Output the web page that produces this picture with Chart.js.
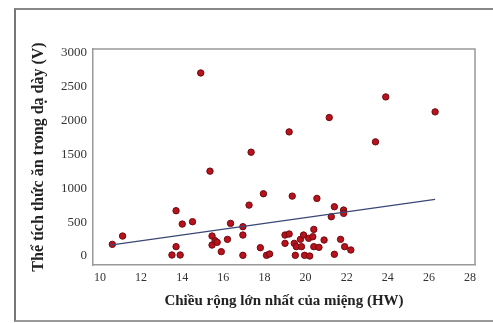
<!DOCTYPE html>
<html>
<head>
<meta charset="utf-8">
<script src="https://cdn.jsdelivr.net/npm/chart.js@4/dist/chart.umd.min.js"></script>
<style>
  html, body { margin: 0; padding: 0; background: #fff; overflow: hidden; }
  #wrap { position: relative; width: 493px; height: 323px; overflow: hidden; }
  #frame {
    position: absolute; left: 14px; top: 8px; width: 479px; height: 310px;
    border-left: 2px solid #777; border-top: 2px solid #888; border-bottom: 2px solid #999;
  }
  canvas { position: absolute; left: 0; top: 0; }
</style>
</head>
<body>
<div id="wrap">
  <div id="frame"></div>
  <canvas id="chart" width="493" height="323"></canvas>
</div>
<script>
// Data
const hw = [10.6, 11.1, 13.5, 13.7, 13.7, 13.9, 14.0, 14.5, 14.9, 15.35,
            15.45, 15.45, 15.6, 15.7, 15.9, 16.2, 16.35, 16.95, 16.95, 16.95,
            17.25, 17.35, 17.8, 17.95, 18.1, 18.25, 19.0, 19.0, 19.2, 19.2,
            19.35, 19.45, 19.5, 19.55, 19.75, 19.8, 19.9, 19.95, 20.15, 20.2,
            20.35, 20.4, 20.4, 20.55, 20.65, 20.9, 21.15, 21.25, 21.4, 21.4,
            21.7, 21.85, 21.85, 21.9, 22.2, 23.4, 23.9, 26.3];
const volume = [172, 295, 15, 138, 669, 15, 472, 507, 2705, 1254,
                295, 162, 226, 202, 64, 246, 482, 433, 310, 10,
                752, 1534, 123, 920, 10, 30, 310, 187, 325, 1834,
                885, 187, 10, 138, 246, 138, 310, 10, 261, 0,
                285, 393, 138, 851, 128, 236, 2046, 580, 728, 25,
                246, 679, 630, 138, 89, 1687, 2351, 2130];
// fitted trend line end points
const trendX = [10.5, 26.3];
const trendY = [160, 837];

const xTicks = [10, 12, 14, 16, 18, 20, 22, 24, 26, 28];
const yTicks = [0, 500, 1000, 1500, 2000, 2500, 3000];

const points = hw.map((x, i) => ({ x: x, y: volume[i] }));
const trend = trendX.map((x, i) => ({ x: x, y: trendY[i] }));

const serif = "'Liberation Serif', 'DejaVu Serif', serif";

new Chart(document.getElementById('chart').getContext('2d'), {
    type: 'scatter',
    data: {
        datasets: [
            {
                type: 'line',
                data: trend,
                borderColor: '#3b4775',
                borderWidth: 1.2,
                pointRadius: 0,
                fill: false
            },
            {
                data: points,
                backgroundColor: '#b8121c',
                borderColor: '#6e0a10',
                borderWidth: 1,
                pointRadius: 3.2
            }
        ]
    },
    options: {
        responsive: false,
        animation: false,
        layout: { padding: { left: 29, right: 18, top: 49, bottom: 13 } },
        plugins: { legend: { display: false }, tooltip: { enabled: false } },
        scales: {
            x: {
                type: 'linear',
                min: 9.66,
                max: 28.24,
                afterBuildTicks: s => { s.ticks = xTicks.map(v => ({ value: v })); },
                afterFit: s => { s.height = 45; },
                grid: { display: false, drawTicks: true, tickLength: 3, tickColor: '#999' },
                border: { display: true, color: '#999', width: 1.5 },
                ticks: {
                    color: '#333', font: { family: serif, size: 12 }, padding: 3, maxRotation: 0,
                    callback: v => String(v)
                },
                title: {
                    display: true,
                    text: 'Chiều rộng lớn nhất của miệng (HW)',
                    color: '#222',
                    font: { family: serif, size: 15, weight: 'bold' },
                    padding: { top: 1, bottom: 0 }
                }
            },
            y: {
                type: 'linear',
                min: -133,
                max: 3059,
                afterBuildTicks: s => { s.ticks = yTicks.map(v => ({ value: v })); },
                afterFit: s => { s.width = 64; },
                grid: { display: false, drawTicks: true, tickLength: 3, tickColor: '#999' },
                border: { display: true, color: '#999', width: 1.5 },
                ticks: {
                    color: '#333', font: { family: serif, size: 13 }, padding: 3,
                    callback: v => String(v)
                },
                title: {
                    display: true,
                    text: 'Thể tích thức ăn trong dạ dày (V)',
                    color: '#222',
                    font: { family: serif, size: 16, weight: 'bold' },
                    padding: { top: 0, bottom: 2 }
                }
            }
        }
    },
    plugins: [{
        // closing the plot box on top and right
        id: 'boxFrame',
        afterDraw(chart) {
            const a = chart.chartArea;
            const c = chart.ctx;
            c.save();
            c.strokeStyle = '#999';
            c.lineWidth = 1.5;
            c.beginPath();
            c.moveTo(a.left, a.top);
            c.lineTo(a.right, a.top);
            c.lineTo(a.right, a.bottom);
            c.stroke();
            c.restore();
        }
    }]
});
</script>
</body>
</html>
